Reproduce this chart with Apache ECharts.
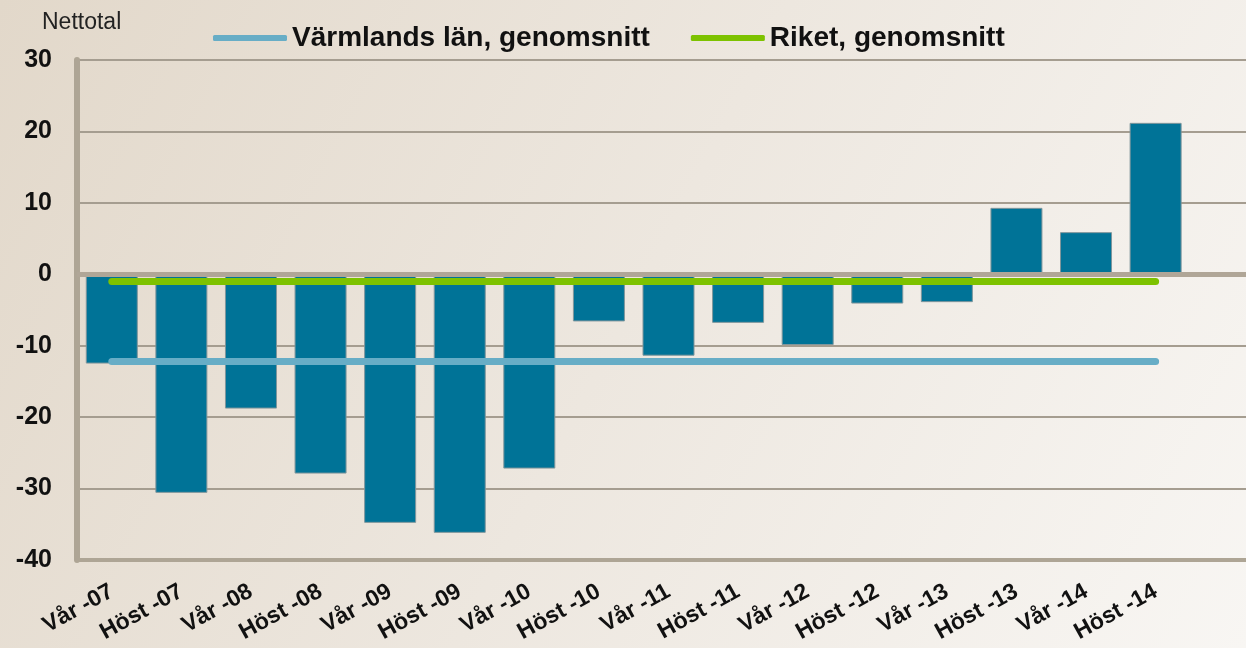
<!DOCTYPE html>
<html>
<head>
<meta charset="utf-8">
<script src="https://cdn.jsdelivr.net/npm/echarts@6/dist/echarts.min.js"></script>
<style>
html,body{margin:0;padding:0;}
#chart{width:1246px;height:648px;}
</style>
</head>
<body>
<div id="chart"></div>
<script>
var categories = ['Vår -07','Höst -07','Vår -08','Höst -08','Vår -09','Höst -09','Vår -10','Höst -10','Vår -11','Höst -11','Vår -12','Höst -12','Vår -13','Höst -13','Vår -14','Höst -14'];
var nettotal = [-12.5,-30.6,-18.8,-27.9,-34.8,-36.2,-27.2,-6.6,-11.4,-6.8,-9.9,-4.1,-3.9,9.3,5.9,21.2];
var varmlandAvg = [-12.2,-12.2,-12.2,-12.2,-12.2,-12.2,-12.2,-12.2,-12.2,-12.2,-12.2,-12.2,-12.2,-12.2,-12.2,-12.2];
var riketAvg = [-1.0,-1.0,-1.0,-1.0,-1.0,-1.0,-1.0,-1.0,-1.0,-1.0,-1.0,-1.0,-1.0,-1.0,-1.0,-1.0];
var yTicks = {min:-40, max:30, interval:10};

var axisCats = categories.concat(['']);
var chart = echarts.init(document.getElementById('chart'), null, {renderer:'canvas'});
var font = 'Liberation Sans, Arial, sans-serif';
chart.setOption({
  animation:false,
  backgroundColor:{type:'linear',x:0,y:0,x2:1,y2:1,colorStops:[
    {offset:0,color:'#e2d8ca'},{offset:0.5,color:'#ede7df'},{offset:1,color:'#f8f6f3'}]},
  title:{text:'Nettotal',left:37,top:6,textStyle:{fontFamily:font,fontSize:23,fontWeight:'normal',color:'#222'}},
  legend:{
    left:208, top:19, itemWidth:74, itemHeight:6, itemGap:41, icon:'roundRect',
    data:['Värmlands län, genomsnitt','Riket, genomsnitt'],
    textStyle:{fontFamily:font,fontSize:28,fontWeight:'bold',color:'#111',lineHeight:28}
  },
  grid:{left:77,right:-14,top:60,bottom:88,containLabel:false,outerBoundsMode:'none'},
  xAxis:{
    type:'category', data:axisCats,
    axisLine:{onZero:false,lineStyle:{color:'#aea595',width:4}},
    axisTick:{show:false},
    axisLabel:{interval:0,rotate:29,margin:30,fontFamily:font,fontSize:23,fontWeight:'bold',color:'#111'}
  },
  yAxis:{
    type:'value', min:yTicks.min, max:yTicks.max, interval:yTicks.interval,
    axisLine:{show:true,lineStyle:{color:'#aea595',width:6}},
    axisTick:{show:false},
    splitLine:{lineStyle:{color:'#a59d90',width:2}},
    axisLabel:{margin:25,fontFamily:font,fontSize:25,fontWeight:'bold',color:'#111'}
  },
  series:[
    {type:'bar', name:'Nettotal', data:nettotal, barWidth:52,
     itemStyle:{color:'#007397',borderColor:'#7f969c',borderWidth:1},
     markLine:{silent:true,symbol:'none',label:{show:false},
       lineStyle:{type:'solid',color:'#b0a697',width:5},data:[{yAxis:0}]},
     z:2},
    {type:'line', name:'Värmlands län, genomsnitt', data:varmlandAvg, showSymbol:false, symbol:'none',
     lineStyle:{color:'#67adc6',width:7,cap:'round'}, itemStyle:{color:'#67adc6'}, z:5},
    {type:'line', name:'Riket, genomsnitt', data:riketAvg, showSymbol:false, symbol:'none',
     lineStyle:{color:'#7dc200',width:7,cap:'round'}, itemStyle:{color:'#7dc200'}, z:5}
  ]
});
</script>
</body>
</html>
